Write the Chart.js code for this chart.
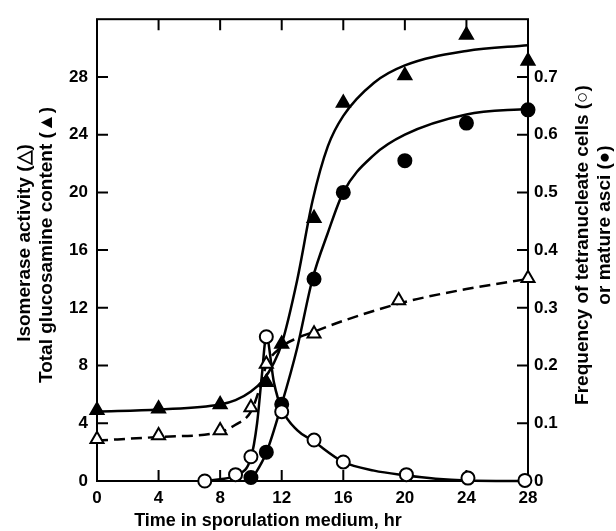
<!DOCTYPE html>
<html lang="en">
<head>
  <meta charset="UTF-8" />
  <title>Isomerase activity and sporulation time course</title>
  <script src="https://cdn.jsdelivr.net/npm/chart.js"></script>
  <style>
    html, body { margin: 0; padding: 0; background: #fff; }
    #wrap { width: 616px; height: 531px; }
  </style>
</head>
<body>
  <div id="wrap"><canvas id="chart" width="616" height="531"></canvas></div>

  <script>
    // measured points (hr)
    const glucHours = [0, 4, 8, 11, 12, 14.1, 16, 20, 24, 28];
    const glucValues = [4.9, 5.0, 5.3, 6.85, 9.5, 18.2, 26.2, 28.1, 30.9, 29.1];

    const isoHours = [0, 4, 8, 10, 11, 14.1, 19.6, 28];
    const isoValues = [2.9, 3.15, 3.5, 5.1, 8.1, 10.2, 12.5, 14.05];

    // right axis: frequency
    const tetraHours = [7, 9, 10, 11, 12, 14.1, 16, 20.1, 24.1, 27.8];
    const tetraValues = [0, 0.011, 0.042, 0.25, 0.12, 0.071, 0.033, 0.011, 0.005, 0.001];

    const asciHours = [10, 11, 12, 14.1, 16, 20, 24, 28];
    const asciValues = [0.006, 0.05, 0.133, 0.35, 0.5, 0.555, 0.62, 0.643];

    // hand drawn fitted curves
    const glucCurveHours = [0, 4, 8, 9, 10, 10.8, 11.5, 12, 13, 14, 15, 16, 18, 20, 24, 28];
    const glucCurveValues = [4.8, 4.95, 5.3, 5.6, 6.2, 7.0, 8.2, 9.5, 13.9, 19.4, 23.2, 25.3, 27.6, 28.8, 29.8, 30.2];

    const isoCurveHours = [0, 4, 8, 9, 10, 10.5, 11, 12, 13, 14, 16, 20, 24, 28];
    const isoCurveValues = [2.8, 3.05, 3.4, 3.9, 4.8, 6.2, 8.0, 9.3, 9.9, 10.3, 11.1, 12.4, 13.3, 14.0];

    const tetraCurveHours = [7, 8, 9, 10, 10.4, 10.7, 11, 11.5, 12, 13, 14, 16, 18, 20, 22, 24, 28];
    const tetraCurveValues = [0, 0.003, 0.01, 0.04, 0.1, 0.18, 0.25, 0.17, 0.125, 0.088, 0.07, 0.033, 0.018, 0.01, 0.004, 0.001, 0];

    const asciCurveHours = [10, 11, 12, 13, 14, 15, 16, 18, 20, 24, 28];
    const asciCurveValues = [0, 0.049, 0.133, 0.23, 0.35, 0.43, 0.5, 0.565, 0.6, 0.635, 0.645];

    const xTitle = "Time in sporulation medium, hr";
    const leftTitle = ["Isomerase activity (\u25B3)", "Total glucosamine content (\u25B2)"];
    const rightTitle = ["Frequency of tetranucleate cells (\u25CB)", "or mature asci (\u25CF)"];

    const FONT = '"Liberation Sans", Arial, sans-serif';

    function pts(xs, ys) {
      return xs.map((x, i) => ({ x: x, y: ys[i] }));
    }

    function curve(xs, ys, axis, dash) {
      return {
        data: pts(xs, ys),
        yAxisID: axis,
        showLine: true,
        borderColor: "#000",
        borderWidth: 2.5,
        borderDash: dash || [],
        pointRadius: 0,
        cubicInterpolationMode: "monotone",
        clip: false,
        order: 2
      };
    }

    function marks(xs, ys, axis, style, filled, r) {
      return {
        data: pts(xs, ys),
        yAxisID: axis,
        showLine: false,
        pointStyle: style,
        pointRadius: r,
        pointBorderWidth: 2,
        pointBorderColor: "#000",
        pointBackgroundColor: filled ? "#000" : "#fff",
        clip: false,
        order: 1
      };
    }

    // box, inward ticks and axis titles
    const framePlugin = {
      id: "frame",
      beforeDatasetsDraw(chart) {
        const { ctx, chartArea: a, scales } = chart;
        const len = 11;
        ctx.save();
        ctx.strokeStyle = "#000";
        ctx.lineWidth = 2;
        ctx.strokeRect(a.left, a.top, a.right - a.left, a.bottom - a.top);
        ctx.beginPath();
        scales.x.ticks.forEach(t => {
          if (t.value <= 0 || t.value >= 28) return;
          const px = scales.x.getPixelForValue(t.value);
          ctx.moveTo(px, a.bottom); ctx.lineTo(px, a.bottom - len);
          ctx.moveTo(px, a.top); ctx.lineTo(px, a.top + len);
        });
        scales.y.ticks.forEach(t => {
          if (t.value <= 0 || t.value >= 32) return;
          const py = scales.y.getPixelForValue(t.value);
          ctx.moveTo(a.left, py); ctx.lineTo(a.left + len, py);
        });
        scales.y2.ticks.forEach(t => {
          if (t.value <= 0.001 || t.value >= 0.79) return;
          const py = scales.y2.getPixelForValue(t.value);
          ctx.moveTo(a.right, py); ctx.lineTo(a.right - len, py);
        });
        ctx.stroke();
        ctx.restore();
      },
      afterDraw(chart) {
        const { ctx } = chart;
        ctx.save();
        ctx.fillStyle = "#000";
        ctx.textAlign = "center";
        ctx.textBaseline = "middle";
        ctx.font = "bold 18px " + FONT;
        ctx.fillText(xTitle, 268, 521);

        const vtext = (txt, x, y) => {
          ctx.save();
          ctx.translate(x, y);
          ctx.rotate(-Math.PI / 2);
          ctx.fillText(txt, 0, 0);
          ctx.restore();
        };
        ctx.font = "bold 19px " + FONT;
        vtext(leftTitle[0], 25, 243);
        vtext(leftTitle[1], 47, 245);
        vtext(rightTitle[0], 583, 245);
        vtext(rightTitle[1], 605, 225);
        ctx.restore();
      }
    };

    const tickFont = { family: FONT, size: 17, weight: "bold" };

    new Chart(document.getElementById("chart").getContext("2d"), {
      type: "scatter",
      data: {
        datasets: [
          curve(glucCurveHours, glucCurveValues, "y"),
          curve(isoCurveHours, isoCurveValues, "y", [11, 6]),
          curve(tetraCurveHours, tetraCurveValues, "y2"),
          curve(asciCurveHours, asciCurveValues, "y2"),
          marks(glucHours, glucValues, "y", "triangle", true, 7.5),
          marks(isoHours, isoValues, "y", "triangle", false, 7.5),
          marks(tetraHours, tetraValues, "y2", "circle", false, 6.5),
          marks(asciHours, asciValues, "y2", "circle", true, 6.5)
        ]
      },
      options: {
        responsive: false,
        animation: false,
        layout: { padding: { top: 17, left: 0, right: 0, bottom: 0 } },
        plugins: {
          legend: { display: false },
          tooltip: { enabled: false }
        },
        scales: {
          x: {
            type: "linear",
            min: 0,
            max: 28,
            grid: { display: false, drawTicks: false },
            border: { display: false },
            ticks: { stepSize: 4, color: "#000", font: tickFont, padding: 7, maxRotation: 0 },
            afterFit: s => { s.height = 50; }
          },
          y: {
            position: "left",
            min: 0,
            max: 32,
            grid: { display: false, drawTicks: false },
            border: { display: false },
            ticks: {
              stepSize: 4, color: "#000", font: tickFont, padding: 9,
              callback: v => (v >= 32 ? "" : v)
            },
            afterFit: s => { s.width = 97; }
          },
          y2: {
            position: "right",
            min: 0,
            max: 0.8,
            grid: { display: false, drawTicks: false },
            border: { display: false },
            ticks: {
              stepSize: 0.1, color: "#000", font: tickFont, padding: 6,
              callback: v => (v > 0.75 ? "" : (Math.abs(v) < 1e-6 ? "0" : v.toFixed(1)))
            },
            afterFit: s => { s.width = 88; }
          }
        }
      },
      plugins: [framePlugin]
    });
  </script>
</body>
</html>
